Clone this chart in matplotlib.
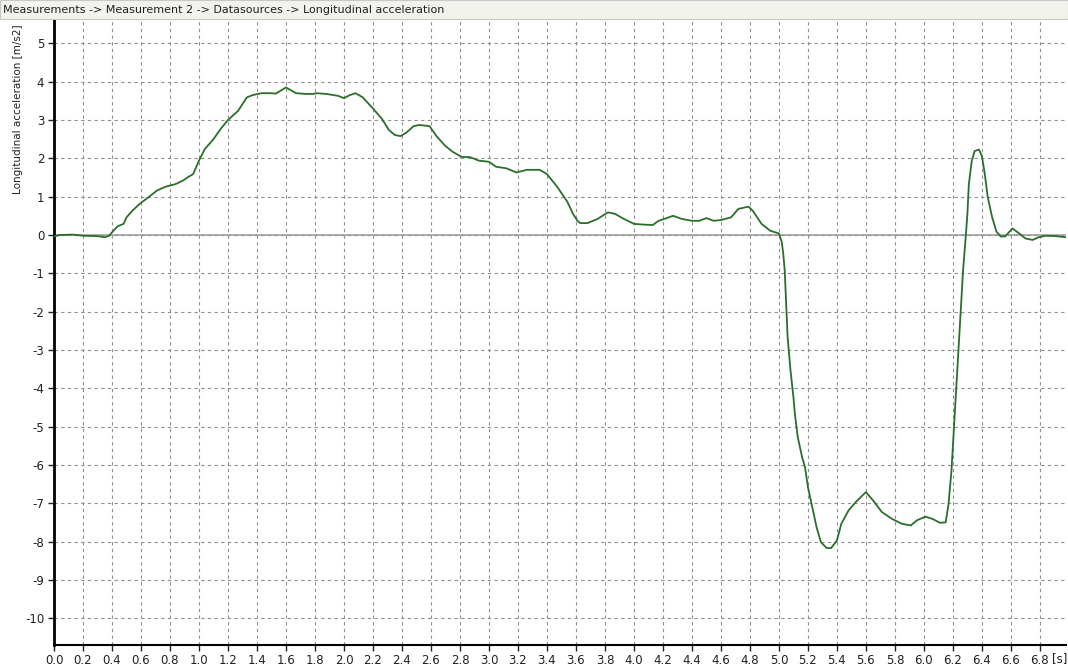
import matplotlib.pyplot as plt
import numpy as np

plt.rcParams['axes.unicode_minus'] = False

# samples (time [s], acceleration [m/s2])
t = [0.0, 0.04, 0.13, 0.2, 0.3, 0.35, 0.38, 0.41, 0.44, 0.48, 0.5, 0.54, 0.59, 0.65,
     0.71, 0.77, 0.84, 0.89, 0.92, 0.96, 1.0, 1.04, 1.1, 1.15, 1.2, 1.27, 1.33, 1.37,
     1.43, 1.49, 1.53, 1.6, 1.67, 1.74, 1.79, 1.81, 1.88, 1.96, 2.0, 2.04, 2.08, 2.13,
     2.2, 2.26, 2.31, 2.35, 2.39, 2.43, 2.48, 2.52, 2.59, 2.64, 2.7, 2.75, 2.81, 2.87,
     2.93, 3.0, 3.05, 3.12, 3.19, 3.26, 3.35, 3.4, 3.47, 3.54, 3.58, 3.61, 3.63, 3.68,
     3.75, 3.82, 3.87, 3.93, 4.0, 4.07, 4.13, 4.17, 4.21, 4.27, 4.33, 4.4, 4.45, 4.5,
     4.55, 4.6, 4.67, 4.72, 4.79, 4.82, 4.88, 4.94, 5.0, 5.02, 5.03, 5.04, 5.05, 5.06,
     5.08, 5.1, 5.11, 5.13, 5.16, 5.18, 5.2, 5.23, 5.26, 5.29, 5.33, 5.36, 5.4, 5.43,
     5.48, 5.53, 5.6, 5.65, 5.71, 5.78, 5.85, 5.91, 5.95, 6.01, 6.06, 6.11, 6.15, 6.17,
     6.19, 6.21, 6.23, 6.25, 6.27, 6.29, 6.3, 6.31, 6.33, 6.35, 6.38, 6.4, 6.42, 6.44,
     6.47, 6.5, 6.53, 6.56, 6.61, 6.64, 6.7, 6.75, 6.79, 6.84, 6.91, 6.98]
acc = [-0.04, 0.0, 0.01, -0.02, -0.03, -0.06, -0.02, 0.11, 0.23, 0.29, 0.46, 0.63, 0.81, 0.98,
       1.16, 1.26, 1.33, 1.42, 1.5, 1.59, 1.94, 2.24, 2.5, 2.77, 3.0, 3.24, 3.59, 3.65,
       3.7, 3.7, 3.69, 3.85, 3.7, 3.68, 3.68, 3.7, 3.68, 3.63, 3.57, 3.65, 3.7, 3.59,
       3.3, 3.04, 2.74, 2.61, 2.58, 2.67, 2.84, 2.87, 2.84, 2.57, 2.32, 2.17, 2.04, 2.03,
       1.94, 1.91, 1.78, 1.74, 1.63, 1.7, 1.7, 1.59, 1.26, 0.87, 0.55, 0.37, 0.31, 0.31,
       0.42, 0.59, 0.55, 0.42, 0.29, 0.27, 0.26, 0.37, 0.42, 0.5, 0.42, 0.37, 0.37, 0.44,
       0.37, 0.39, 0.46, 0.68, 0.74, 0.63, 0.29, 0.11, 0.04, -0.19, -0.5, -0.93, -1.8, -2.67,
       -3.54, -4.23, -4.67, -5.28, -5.8, -6.06, -6.58, -7.1, -7.63, -8.02, -8.17, -8.17, -7.97, -7.54,
       -7.19, -6.97, -6.71, -6.93, -7.23, -7.41, -7.54, -7.58, -7.45, -7.35, -7.41, -7.51, -7.5, -7.02,
       -6.15, -4.84, -3.54, -2.23, -0.93, 0.03, 0.56, 1.33, 1.93, 2.19, 2.23, 2.06, 1.59, 0.99,
       0.47, 0.09, -0.04, -0.04, 0.17, 0.09, -0.09, -0.13, -0.06, -0.02, -0.03, -0.06]

xticks = np.round(np.arange(0, 6.81, 0.2), 1)
yticks = np.arange(-10, 6, 1)
title = 'Measurements -> Measurement 2 -> Datasources -> Longitudinal acceleration'

fig = plt.figure(figsize=(10.68, 6.69), dpi=100)
fig.patch.set_facecolor('white')
ax = fig.add_axes([54/1068, 1-645/669, (1066-54)/1068, (645-20)/669])

# title bar
fig.patches.append(plt.Rectangle((0, 1-19/669), 1, 19/669, transform=fig.transFigure,
                                 facecolor='#f3f3ee', edgecolor='#c8c8c8', lw=0.8, zorder=0))
fig.text(3/1068, 1-10/669, title, fontsize=8, va='center', ha='left', color='#202020')

ax.axhline(0, color='#a8a8a8', lw=1.3, zorder=1)
ax.plot(t, acc, color='#2c6e2c', lw=1.3, zorder=3)

ax.set_xlim(0, 6.98)
ax.set_ylim(-10.7, 5.61)
ax.set_xticks(xticks)
ax.set_xticklabels(['%.1f' % v for v in xticks])
ax.set_yticks(yticks)
ax.grid(True, color='#909090', linestyle=(0, (3, 3)), lw=0.8)
ax.tick_params(labelsize=8.5, length=4, width=1, colors='#202020', pad=3)
ax.tick_params(axis='x', pad=2.5)

for s in ['top', 'right']:
    ax.spines[s].set_visible(False)
ax.spines['left'].set_linewidth(2)
ax.spines['bottom'].set_linewidth(1.5)

fig.text(1060/1068, 1-659/669, '[s]', fontsize=8.5,
         ha='center', va='center', color='#202020')
fig.text(18/1068, 1-24/669, 'Longitudinal acceleration [m/s2]', rotation=90, fontsize=7.5,
         ha='center', va='top', color='#202020')

fig.savefig('out.png', dpi=100)
